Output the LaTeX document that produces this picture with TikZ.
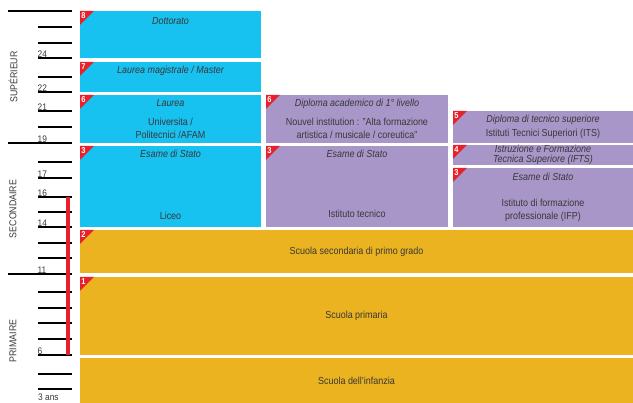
\documentclass[tikz,border=0pt]{standalone}
\usepackage{fontspec}
\setmainfont[FakeStretch=0.88]{Liberation Sans}
\usetikzlibrary{calc,positioning}

\definecolor{sky}{HTML}{17C1F0}
\definecolor{lilac}{HTML}{A896C8}
\definecolor{ochre}{HTML}{EBB31F}
\definecolor{flag}{HTML}{E8202A}
\definecolor{ink}{HTML}{383838}

% red corner with the level number
\newcommand{\levelmark}[2]{%
  \fill[flag] (#1.north west) -- ++(14,0) -- ++(-14,14) -- cycle;
  \node[font=\bfseries\fontsize{8.5}{8.5}\selectfont,text=white,inner sep=0pt,anchor=north west] (#1_mark) at ($(#1.north west)+(1.2,1.2)$) {#2};
}

\begin{document}
\begin{tikzpicture}[x=1pt,y=-1pt,
  box/.style={anchor=north west,inner sep=0pt,outer sep=0pt},
  skybox/.style={box,fill=sky},
  lilacbox/.style={box,fill=lilac},
  ochrebox/.style={box,fill=ochre},
  title/.style={font=\itshape\fontsize{10.2}{13}\selectfont,text=ink,align=center,inner sep=0pt},
  label/.style={font=\fontsize{10.2}{13}\selectfont,text=ink,align=center,inner sep=0pt},
  age/.style={font=\fontsize{9.5}{9.5}\selectfont,text=ink,anchor=south west,inner sep=0.5pt},
  cycle/.style={font=\fontsize{10}{10}\selectfont,text=ink,rotate=90}]
  \useasboundingbox (0,0) rectangle (633,403);
  %
  \node[skybox,minimum width=181,minimum height=47] (Dottorato) at (80,11) {};
  \node[skybox,minimum width=181,minimum height=30] (Magistrale) at (80,62) {};
  \node[skybox,minimum width=181,minimum height=48] (Laurea) at (80,95) {};
  \node[skybox,minimum width=181,minimum height=81] (Liceo) at (80,146) {};
  \node[lilacbox,minimum width=182,minimum height=48] (Accademico) at (266,95) {};
  \node[lilacbox,minimum width=182,minimum height=81] (Tecnico) at (266,146) {};
  \node[lilacbox,minimum width=180,minimum height=32] (ITS) at (453,111) {};
  \node[lilacbox,minimum width=180,minimum height=20] (IFTS) at (453,145) {};
  \node[lilacbox,minimum width=180,minimum height=59] (IFP) at (453,168) {};
  \node[ochrebox,minimum width=553,minimum height=43] (Secondaria) at (80,230) {};
  \node[ochrebox,minimum width=553,minimum height=78] (Primaria) at (80,277) {};
  \node[ochrebox,minimum width=553,minimum height=45] (Infanzia) at (80,358) {};
  %
  \levelmark{Dottorato}{8}
  \levelmark{Magistrale}{7}
  \levelmark{Laurea}{6}
  \levelmark{Liceo}{3}
  \levelmark{Accademico}{6}
  \levelmark{Tecnico}{3}
  \levelmark{ITS}{5}
  \levelmark{IFTS}{4}
  \levelmark{IFP}{3}
  \levelmark{Secondaria}{2}
  \levelmark{Primaria}{1}
  %
  \node[title] (Dottorato_title) at ($(Dottorato.north)+(0,10)$) {Dottorato};
  \node[title] (Magistrale_title) at ($(Magistrale.north)+(0,9)$) {Laurea magistrale / Master};
  \node[title] (Laurea_title) at ($(Laurea.north)+(0,8)$) {Laurea};
  \node[label] (Laurea_text) at ($(Laurea.north)+(0,33.5)$) {Universita /\\Politecnici /AFAM};
  \node[title] (Liceo_title) at ($(Liceo.north)+(0,8)$) {Esame di Stato};
  \node[label] (Liceo_text) at ($(Liceo.north)+(0,70)$) {Liceo};
  \node[title] (Accademico_title) at ($(Accademico.north)+(0,9)$) {Diploma academico di 1° livello};
  \node[label] (Accademico_text) at ($(Accademico.north)+(0,33.5)$) {Nouvel institution : "Alta formazione\\artistica / musicale / coreutica"};
  \node[title] (Tecnico_title) at ($(Tecnico.north)+(0,8)$) {Esame di Stato};
  \node[label] (Tecnico_text) at ($(Tecnico.north)+(0,68)$) {Istituto tecnico};
  \node[title] (ITS_title) at ($(ITS.north)+(0,9)$) {Diploma di tecnico superiore};
  \node[label] (ITS_text) at ($(ITS.north)+(0,23)$) {Istituti Tecnici Superiori (ITS)};
  \node[title,font=\itshape\fontsize{10.2}{9.5}\selectfont] (IFTS_title) at (IFTS.center) {Istruzione e Formazione\\Tecnica Superiore (IFTS)};
  \node[title] (IFP_title) at ($(IFP.north)+(0,9)$) {Esame di Stato};
  \node[label] (IFP_text) at ($(IFP.north)+(0,42)$) {Istituto di formazione\\professionale (IFP)};
  \node[label] (Secondaria_text) at (Secondaria.center) {Scuola secondaria di primo grado};
  \node[label] (Primaria_text) at (Primaria.center) {Scuola primaria};
  \node[label] (Infanzia_text) at (Infanzia.center) {Scuola dell'infanzia};
  %
  % age scale
  \foreach \y in {27,43,58,77,92,111,127,162,178,197,212,227,243,258,292,308,323,339,355,374,389}
    \draw[line width=1.2pt] (38,\y) -- (72,\y);
  \foreach \y in {11,143,274}
    \draw[line width=1.2pt] (8,\y) -- (72,\y);
  \fill[flag] (66,197) rectangle (70,355);
  \node[age] (age24) at (37,58) {24};
  \node[age] (age22) at (37,92) {22};
  \node[age] (age21) at (37,111) {21};
  \node[age] (age19) at (37,143) {19};
  \node[age] (age17) at (37,178) {17};
  \node[age] (age16) at (37,197) {16};
  \node[age] (age14) at (37,227) {14};
  \node[age] (age11) at (37,274) {11};
  \node[age] (age6) at (37,355) {6};
  \node[age,inner sep=0pt] (age3) at (38,401) {3 ans};
  \node[cycle] (Superieur) at (13,77) {SUPÉRIEUR};
  \node[cycle] (Secondaire) at (13,209) {SECONDAIRE};
  \node[cycle] (Primaire) at (13,341) {PRIMAIRE};
\end{tikzpicture}
\end{document}
